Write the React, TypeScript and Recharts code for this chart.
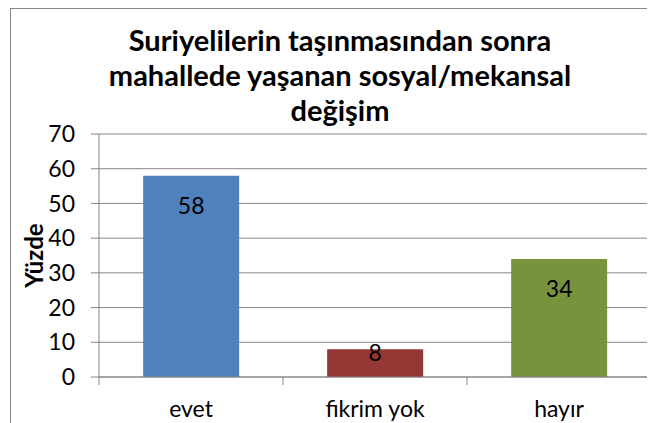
import React from "react";
import { BarChart, Bar, Cell, XAxis, YAxis, CartesianGrid, LabelList, Label } from "recharts";

const categories = ["evet", "fikrim yok", "hayır"];
const values = [58, 8, 34];
const barColors = ["#4F81BD", "#953735", "#77933C"];
const yTicks = [0, 10, 20, 30, 40, 50, 60, 70];
const titleLines = ["Suriyelilerin taşınmasından sonra", "mahallede yaşanan sosyal/mekansal", "değişim"];

const data = categories.map((name, i) => ({ name, value: values[i] }));

const FONT = "Lato, 'Open Sans', sans-serif";
const GRAY = "#868686";
const W = 644;
const H = 414;
const M = { top: 125, right: 4, left: 0, bottom: 6 };
const Y_W = 88;
const BAND = (W - M.right - Y_W) / categories.length;

const CategoryTick = (props: any) => {
  const { x, y, payload, index } = props;
  const top = y - 8;
  return (
    <g>
      <line x1={x - BAND / 2} x2={x - BAND / 2} y1={top} y2={top + 8} stroke={GRAY} />
      {index === categories.length - 1 && (
        <line x1={x + BAND / 2} x2={x + BAND / 2} y1={top} y2={top + 8} stroke={GRAY} />
      )}
      <text x={x} y={top + 40} textAnchor="middle" fontSize={23} fontFamily={FONT} fill="#000">
        {payload.value}
      </text>
    </g>
  );
};

const ValueLabel = (props: any) => {
  const { x, y, width, height, value } = props;
  const dy = Math.min(29, height - 25);
  return (
    <text
      x={x + width / 2}
      y={y + dy}
      textAnchor="middle"
      dominantBaseline="central"
      fontSize={23}
      fontFamily={FONT}
      fill="#000"
    >
      {value}
    </text>
  );
};

export default function App() {
  return (
    <div
      style={{
        position: "relative",
        marginLeft: 2,
        width: W,
        height: H,
        borderLeft: `1px solid ${GRAY}`,
        borderTop: `1px solid ${GRAY}`,
        background: "#fff",
      }}
    >
      <div
        style={{
          position: "absolute",
          left: 0,
          top: 13,
          width: 658,
          textAlign: "center",
          fontFamily: FONT,
          fontWeight: "bold",
          fontSize: 29,
          lineHeight: "35px",
          color: "#000",
        }}
      >
        {titleLines.map((t) => (
          <div key={t}>{t}</div>
        ))}
      </div>
      <BarChart width={W} height={H} data={data} margin={M} barCategoryGap="24%">
        <CartesianGrid vertical={false} stroke={GRAY} />
        <XAxis
          dataKey="name"
          stroke={GRAY}
          tickLine={false}
          tick={<CategoryTick />}
          height={40}
          interval={0}
        />
        <YAxis
          domain={[0, 70]}
          ticks={yTicks}
          width={Y_W}
          stroke={GRAY}
          tickSize={8}
          tickMargin={16}
          tick={{ fill: "#000", fontSize: 23, fontFamily: FONT }}
        >
          <Label
            content={(p: any) => {
              const vb = p.viewBox || {};
              const cy = vb.y + vb.height / 2;
              return (
                <text
                  x={22}
                  y={cy}
                  transform={`rotate(-90 22 ${cy})`}
                  textAnchor="middle"
                  dominantBaseline="central"
                  fontSize={24}
                  fontWeight="bold"
                  fontFamily={FONT}
                  fill="#000"
                >
                  Yüzde
                </text>
              );
            }}
          />
        </YAxis>
        <Bar dataKey="value" isAnimationActive={false}>
          {data.map((d, i) => (
            <Cell key={d.name} fill={barColors[i]} />
          ))}
          <LabelList dataKey="value" content={<ValueLabel />} />
        </Bar>
      </BarChart>
    </div>
  );
}
